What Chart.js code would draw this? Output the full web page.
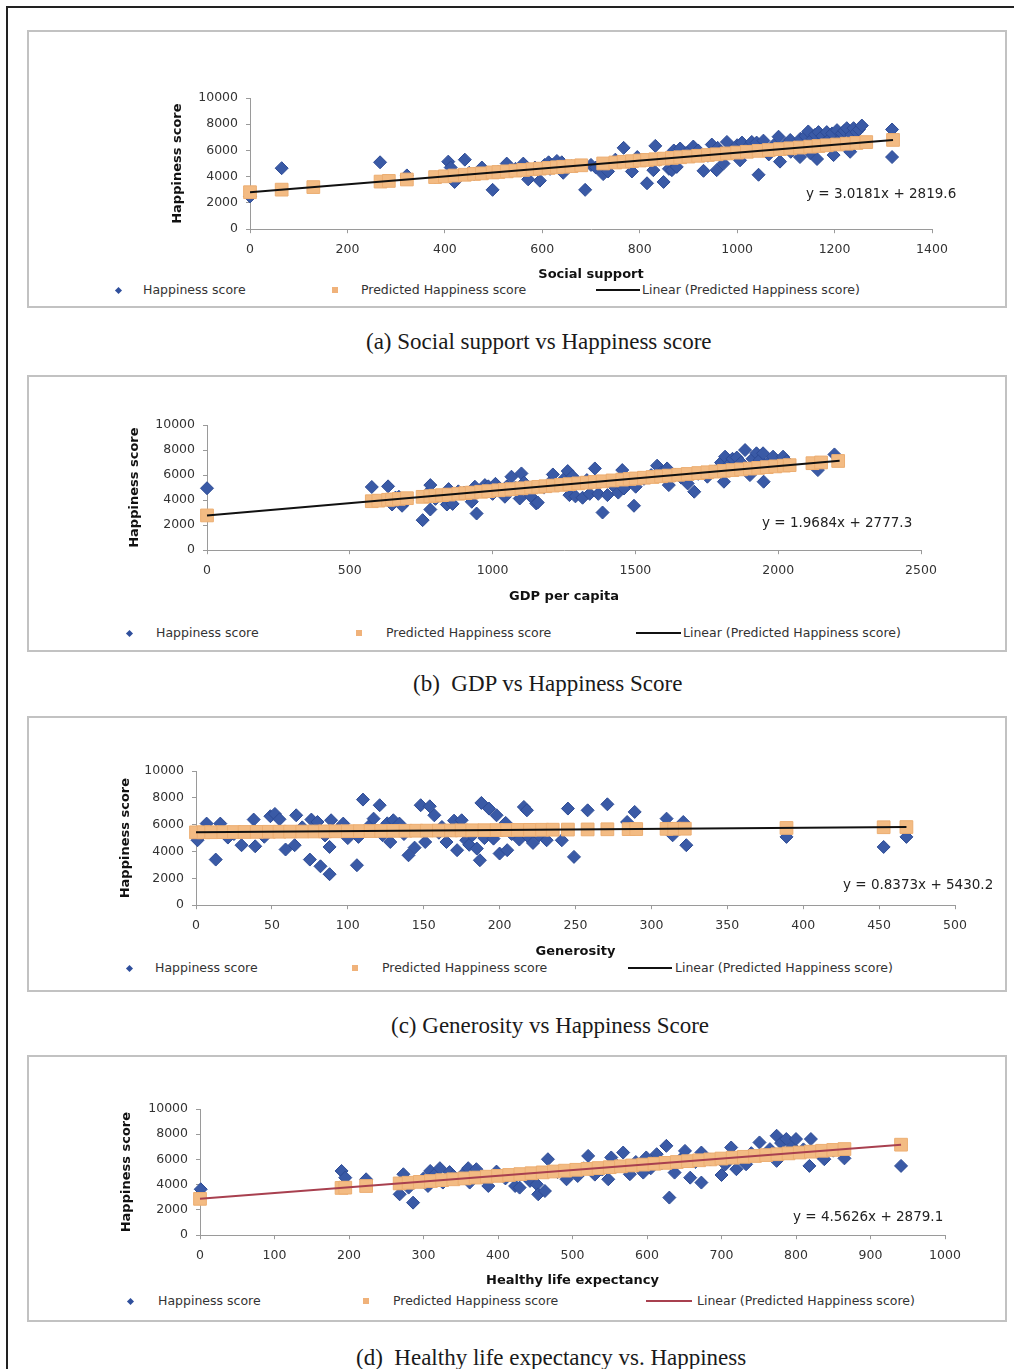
<!DOCTYPE html>
<html>
<head>
<meta charset="utf-8">
<script src="https://cdn.jsdelivr.net/npm/chart.js@4.4.1/dist/chart.umd.min.js"></script>
<style>
html,body{margin:0;padding:0;background:#fff;}
#page{position:relative;width:1014px;height:1369px;overflow:hidden;font-family:"DejaVu Sans",sans-serif;}
#frame{position:absolute;left:6px;top:6px;width:1030px;height:1400px;border-top:2px solid #222;border-left:2px solid #222;}
.panel{position:absolute;left:27px;width:980px;border:2px solid #c2c2c2;box-sizing:border-box;}
canvas{position:absolute;}
.caption{position:absolute;font-family:"Liberation Serif","Times New Roman",serif;font-size:23px;color:#1a1a1a;white-space:pre;line-height:1;}
.eq{position:absolute;font-size:13.5px;color:#222;white-space:pre;line-height:1;}
.leg{position:absolute;font-size:12.5px;color:#333;white-space:pre;line-height:1;}
.mk-d{position:absolute;width:5px;height:5px;background:#2f4f9c;transform:rotate(45deg);}
.mk-s{position:absolute;width:6px;height:6px;background:#f0b27a;}
.mk-l{position:absolute;height:2px;}
</style>
</head>
<body>
<div id="page"><div id="frame"></div></div>
<script>
// ---------------- DATA ----------------
const happinessTicks = [0, 2000, 4000, 6000, 8000, 10000];

// (a) Social support
const socialHappiness = [[0,2500],[65,4650],[267,5100],[322,4100],[380,3950],[407,5150],[412,4700],[420,3600],[430,4000],[441,5300],[450,4300],[460,4200],[476,4700],[498,3000],[510,4400],[527,5000],[545,4600],[560,4800],[561,5000],[571,3800],[585,4700],[595,3700],[605,4900],[613,5100],[616,4600],[620,4900],[630,5200],[640,5100],[643,4300],[660,4800],[688,3000],[700,4900],[710,4700],[725,4200],[735,4400],[750,5300],[767,6200],[784,4400],[795,5500],[815,3500],[828,4500],[832,6350],[840,5300],[849,3600],[860,4600],[866,4500],[870,6000],[876,4750],[883,6150],[895,5800],[900,5900],[910,6300],[920,6000],[931,4450],[940,5600],[948,6450],[958,4500],[960,6200],[965,5900],[972,5000],[979,6650],[990,6000],[1000,6400],[1006,5250],[1010,6600],[1020,6200],[1030,6650],[1040,6600],[1044,4150],[1054,6750],[1065,5700],[1075,6400],[1085,7050],[1088,5150],[1100,6500],[1109,6800],[1110,5900],[1118,6200],[1129,5500],[1130,6900],[1140,7100],[1146,7450],[1150,5800],[1155,6900],[1160,7200],[1164,5350],[1167,7400],[1175,7100],[1180,6600],[1184,7400],[1190,6900],[1195,7300],[1198,5650],[1205,7550],[1210,6800],[1215,7300],[1220,7500],[1225,7700],[1232,5900],[1235,7200],[1239,7700],[1245,7400],[1250,7600],[1256,7900],[1318,7600],[1318,5500]];
const socialPredicted = [[0,2820],[65,3015],[130,3210],[268,3630],[285,3680],[322,3790],[380,3970],[400,4030],[420,4090],[441,4150],[460,4210],[476,4255],[498,4325],[510,4360],[527,4410],[545,4465],[561,4515],[580,4570],[595,4615],[613,4670],[630,4720],[643,4760],[660,4810],[680,4870],[725,5010],[750,5085],[767,5135],[784,5185],[800,5235],[815,5280],[832,5330],[849,5380],[866,5435],[883,5485],[900,5535],[920,5595],[940,5655],[958,5710],[979,5775],[1000,5840],[1020,5900],[1044,5970],[1065,6035],[1088,6105],[1109,6165],[1129,6225],[1150,6290],[1167,6340],[1184,6395],[1205,6455],[1225,6515],[1245,6575],[1265,6640],[1320,6805]];
const socialTrend = [[0,2820],[1320,6804]];

// (b) GDP per capita
const gdpHappiness = [[0,4950],[577,5050],[634,5100],[648,3650],[660,4200],[672,4270],[683,3550],[700,4000],[755,2400],[770,4500],[782,3250],[782,5200],[800,4100],[840,3650],[846,4880],[860,3700],[880,4700],[900,4600],[927,3870],[938,5070],[944,2930],[960,4800],[973,5200],[985,5100],[1000,4500],[1010,5300],[1020,4900],[1043,4270],[1050,5100],[1066,5870],[1080,5000],[1095,4130],[1101,6130],[1110,5400],[1120,4700],[1135,4270],[1153,3730],[1158,3810],[1180,5000],[1200,5400],[1211,6050],[1230,5200],[1250,5700],[1263,6320],[1269,4400],[1280,5900],[1290,4300],[1315,4190],[1330,5600],[1340,4500],[1358,6530],[1370,4500],[1385,3010],[1402,4400],[1420,5200],[1440,4600],[1454,6400],[1460,4930],[1480,5500],[1495,3550],[1501,5070],[1530,5700],[1555,6000],[1576,6750],[1590,6200],[1611,6530],[1617,5200],[1640,6000],[1660,5800],[1683,5330],[1706,4670],[1720,6100],[1752,5870],[1780,6300],[1800,7000],[1810,5470],[1814,7470],[1830,6900],[1840,7300],[1855,7400],[1870,7000],[1884,8000],[1901,6000],[1910,7300],[1924,7740],[1935,7200],[1947,7740],[1949,5470],[1965,7000],[1982,7470],[2000,6800],[2017,7470],[2030,7100],[2139,6400],[2197,7650]];
const gdpPredicted = [[0,2777],[577,3913],[600,3958],[634,4025],[648,4053],[672,4100],[700,4155],[755,4263],[782,4316],[800,4352],[823,4397],[846,4442],[880,4509],[905,4558],[927,4602],[960,4667],[985,4716],[1020,4785],[1043,4830],[1066,4875],[1101,4944],[1135,5011],[1160,5060],[1185,5110],[1211,5160],[1240,5218],[1269,5275],[1300,5336],[1330,5395],[1358,5450],[1385,5503],[1420,5572],[1454,5639],[1480,5690],[1501,5731],[1530,5788],[1560,5847],[1590,5906],[1617,5959],[1650,6024],[1683,6089],[1720,6162],[1752,6225],[1780,6280],[1810,6339],[1840,6398],[1870,6457],[1901,6518],[1930,6575],[1960,6634],[1990,6693],[2020,6752],[2040,6792],[2120,6950],[2150,7009],[2210,7127]];
const gdpTrend = [[0,2777],[2215,7137]];

// (c) Generosity
const generosityHappiness = [[1,4840],[4,5300],[7,6080],[13,3400],[16,6080],[21,5040],[25,5300],[30,4470],[38,6380],[39,4390],[45,5100],[49,6630],[52,6800],[55,6400],[59,4150],[65,4470],[66,6700],[70,5800],[75,3400],[76,6380],[80,6200],[82,2900],[85,5200],[88,2310],[88,4340],[89,6330],[93,5600],[97,6080],[100,5000],[106,2980],[107,5090],[110,7870],[114,5900],[117,6450],[121,7450],[123,5210],[126,6100],[128,4710],[130,6330],[134,6080],[137,5300],[140,3720],[144,4290],[148,7450],[151,4710],[154,7370],[157,6700],[160,5400],[162,5830],[165,4710],[168,5600],[170,6300],[172,4100],[175,6330],[178,4840],[180,4500],[182,5200],[185,4220],[187,3350],[188,7620],[190,5000],[193,7200],[196,4960],[198,6700],[200,3850],[202,5600],[204,6130],[205,4100],[208,5300],[213,4890],[216,7320],[218,7070],[219,5090],[222,4640],[226,5200],[231,4840],[241,4840],[245,7200],[249,3600],[258,7070],[271,7520],[284,6200],[289,6950],[310,6450],[314,5210],[321,6200],[323,4470],[389,5090],[453,4340],[468,5090]];
const generosityPredicted = [[0,5430],[5,5434],[10,5438],[18,5445],[25,5451],[32,5457],[40,5463],[48,5470],[55,5476],[62,5482],[70,5489],[78,5495],[85,5501],[92,5507],[100,5514],[108,5520],[115,5526],[122,5532],[130,5539],[138,5546],[145,5551],[152,5557],[160,5564],[168,5571],[175,5577],[182,5582],[190,5589],[198,5596],[205,5602],[212,5607],[220,5614],[228,5621],[235,5627],[245,5635],[258,5646],[271,5657],[285,5669],[290,5673],[310,5690],[315,5694],[322,5700],[389,5756],[453,5809],[468,5822]];
const generosityTrend = [[0,5430],[468,5822]];

// (d) Healthy life expectancy
const healthHappiness = [[1,3640],[190,5090],[195,4560],[223,4430],[268,3240],[273,4830],[280,3770],[286,2580],[300,4500],[306,3900],[309,5090],[315,4800],[322,5310],[326,4170],[335,5000],[340,4700],[353,4830],[360,5310],[362,4170],[371,5230],[380,4600],[387,3900],[398,5040],[410,4500],[423,3900],[429,3770],[443,4300],[452,4030],[454,3240],[463,3500],[467,6020],[480,5000],[492,4430],[500,5100],[507,4690],[515,5300],[521,6280],[530,4800],[540,5200],[548,4430],[552,6160],[560,5500],[568,6550],[577,4830],[585,5800],[595,4960],[599,6160],[605,5300],[613,6420],[620,5700],[626,7080],[630,2980],[637,4960],[645,6000],[651,6680],[658,4560],[665,5800],[673,6550],[673,4170],[685,6000],[700,4770],[705,5600],[713,6950],[720,5230],[733,5620],[740,6500],[751,7350],[758,6400],[765,6820],[774,7880],[774,5890],[780,7300],[787,7620],[795,7000],[800,7620],[810,6800],[818,5490],[820,7620],[830,6500],[838,6020],[850,6700],[865,6090],[941,5490]];
const healthPredicted = [[0,2880],[190,3746],[195,3769],[223,3897],[268,4102],[280,4157],[295,4225],[310,4293],[325,4362],[340,4430],[355,4499],[370,4567],[385,4636],[400,4704],[415,4773],[430,4841],[445,4910],[460,4978],[475,5046],[490,5115],[505,5183],[520,5252],[535,5320],[550,5389],[565,5457],[580,5526],[595,5594],[610,5662],[625,5731],[640,5799],[655,5868],[670,5936],[685,6005],[700,6073],[715,6141],[730,6210],[745,6278],[760,6347],[775,6415],[790,6484],[805,6552],[820,6620],[835,6689],[850,6757],[865,6826],[941,7173]];
const healthTrend = [[0,2880],[941,7173]];

const xTitles = ['Social support', 'GDP per capita', 'Generosity', 'Healthy life expectancy'];
const xMaxes = [1400, 2500, 500, 1000];
const xSteps = [200, 500, 50, 100];
const equations = ['y = 3.0181x + 2819.6', 'y = 1.9684x + 2777.3', 'y = 0.8373x + 5430.2', 'y = 4.5626x + 2879.1'];
const captions = ['(a) Social support vs Happiness score', '(b)  GDP vs Happiness Score', '(c) Generosity vs Happiness Score', '(d)  Healthy life expectancy vs. Happiness'];
const legendLabels = ['Happiness score', 'Predicted Happiness score', 'Linear (Predicted Happiness score)'];

// ---------------- LAYOUT ----------------
const layouts = [
  {boxTop:30, boxBottom:308, plot:{l:250,r:932,t:98,b:229}, yTitleX:178, xTitleY:274, legY:290, leg:[118,143,335,361,596,640,642], eq:[806,194], cap:[366,342], trendColor:'#111111'},
  {boxTop:375, boxBottom:652, plot:{l:207,r:921,t:425,b:550}, yTitleX:135, xTitleY:596, legY:633, leg:[129,156,359,386,636,681,683], eq:[762,523], cap:[413,684], trendColor:'#111111'},
  {boxTop:716, boxBottom:992, plot:{l:196,r:955,t:771,b:905}, yTitleX:126, xTitleY:951, legY:968, leg:[129,155,355,382,628,672,675], eq:[843,885], cap:[391,1026], trendColor:'#111111'},
  {boxTop:1055, boxBottom:1322, plot:{l:200,r:945,t:1109,b:1235}, yTitleX:127, xTitleY:1280, legY:1301, leg:[130,158,366,393,646,692,697], eq:[793,1217], cap:[356,1358], trendColor:'#a8404f'}
];
const seriesSets = [
  [socialHappiness, socialPredicted, socialTrend],
  [gdpHappiness, gdpPredicted, gdpTrend],
  [generosityHappiness, generosityPredicted, generosityTrend],
  [healthHappiness, healthPredicted, healthTrend]
];

Chart.defaults.font.family = '"DejaVu Sans", sans-serif';
Chart.defaults.color = '#333';

const page = document.getElementById('page');
function el(cls, text, css) {
  const d = document.createElement('div');
  d.className = cls;
  if (text) d.textContent = text;
  Object.assign(d.style, css);
  page.appendChild(d);
  return d;
}
const toXY = arr => arr.map(p => ({x: p[0], y: p[1]}));

layouts.forEach((L, i) => {
  const [happy, pred, trend] = seriesSets[i];
  el('panel', '', {top: L.boxTop + 'px', height: (L.boxBottom - L.boxTop) + 'px'});

  const cL = 29, cT = L.boxTop + 2, cW = 975;
  const titleLH = 13 * 1.2;
  const cH = Math.round(L.xTitleY + titleLH / 2 - cT);
  const yAxisLeft = L.yTitleX - titleLH / 2;
  const canvas = document.createElement('canvas');
  canvas.width = cW; canvas.height = cH;
  canvas.style.left = cL + 'px'; canvas.style.top = cT + 'px';
  canvas.style.width = cW + 'px'; canvas.style.height = cH + 'px';
  page.appendChild(canvas);

  const axisCommon = {
    grid: {display: true, drawOnChartArea: false, tickLength: 4, color: '#9a9a9a'},
    border: {display: true, color: '#9a9a9a', width: 1}
  };
  new Chart(canvas, {
    type: 'scatter',
    data: {datasets: [
      {label: legendLabels[2], type: 'line', data: toXY(trend), borderColor: L.trendColor, borderWidth: 2, pointRadius: 0, fill: false, order: 0, clip: false},
      {label: legendLabels[1], data: toXY(pred), pointStyle: 'rect', pointRadius: 9, backgroundColor: '#f3bb83', borderColor: '#ecae72', borderWidth: 1, order: 1, clip: false},
      {label: legendLabels[0], data: toXY(happy), pointStyle: 'rectRot', pointRadius: 6.5, backgroundColor: '#3a5aa6', borderColor: '#2d4b95', borderWidth: 1, order: 2, clip: false}
    ]},
    options: {
      responsive: false, animation: false, devicePixelRatio: 1,
      layout: {padding: {left: yAxisLeft - cL, right: cL + cW - L.plot.r, top: L.plot.t - cT, bottom: 0}},
      plugins: {legend: {display: false}, tooltip: {enabled: false}},
      scales: {
        x: Object.assign({}, axisCommon, {
          type: 'linear', min: 0, max: xMaxes[i],
          ticks: {stepSize: xSteps[i], padding: 9, color: '#333', font: {size: 12.5}, callback: v => String(v)},
          title: {display: true, text: xTitles[i], color: '#111', font: {size: 13, weight: 'bold'}, padding: 0},
          afterFit(s) { s.height = L.xTitleY + titleLH / 2 - L.plot.b; }
        }),
        y: Object.assign({}, axisCommon, {
          type: 'linear', min: happinessTicks[0], max: happinessTicks[happinessTicks.length - 1],
          afterBuildTicks(s) { s.ticks = happinessTicks.map(v => ({value: v})); },
          ticks: {padding: 8, color: '#333', font: {size: 12.5}, callback: v => String(v)},
          title: {display: true, text: 'Happiness score', color: '#111', font: {size: 13, weight: 'bold'}, padding: 0},
          afterFit(s) { s.width = L.plot.l - yAxisLeft; }
        })
      }
    }
  });

  // equation
  el('eq', equations[i], {left: L.eq[0] + 'px', top: (L.eq[1] - 7) + 'px'});
  // legend
  const ly = L.legY;
  el('mk-d', '', {left: (L.leg[0] - 2.5) + 'px', top: (ly - 2.5) + 'px'});
  el('leg', legendLabels[0], {left: L.leg[1] + 'px', top: (ly - 6.5) + 'px'});
  el('mk-s', '', {left: (L.leg[2] - 3) + 'px', top: (ly - 3) + 'px'});
  el('leg', legendLabels[1], {left: L.leg[3] + 'px', top: (ly - 6.5) + 'px'});
  el('mk-l', '', {left: L.leg[4] + 'px', top: (ly - 1) + 'px', width: (L.leg[5] - L.leg[4]) + 'px', background: L.trendColor});
  el('leg', legendLabels[2], {left: L.leg[6] + 'px', top: (ly - 6.5) + 'px'});
  // caption
  el('caption', captions[i], {left: L.cap[0] + 'px', top: (L.cap[1] - 12) + 'px'});
});
</script>
</body>
</html>
